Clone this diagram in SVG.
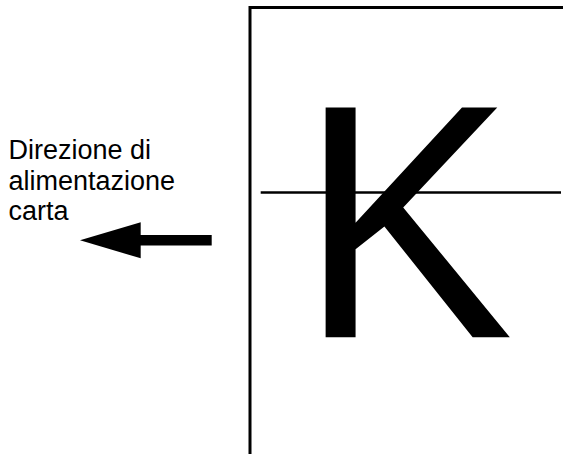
<svg xmlns="http://www.w3.org/2000/svg" width="563" height="454" viewBox="0 0 563 454">
<style>
.lbl{font-family:"Liberation Sans",Arial,sans-serif;font-size:27px;fill:#000}
.big{font-family:"Liberation Sans",Arial,sans-serif;font-size:321px;fill:#000}
</style>
<rect width="563" height="454" fill="#fff"/>
<g id="label">
<text class="lbl" x="8.5" y="159">Direzione di</text>
<text class="lbl" x="8.5" y="189.5">alimentazione</text>
<text class="lbl" x="8.5" y="220">carta</text>
</g>
<g id="arrow">
<rect x="140" y="235" width="71.7" height="10.5" fill="#000"/>
<polygon points="80,240.3 140.7,222.3 140.7,258.3" fill="#000"/>
</g>
<g id="paper">
<path d="M250,454 V7.5 H563" fill="none" stroke="#000" stroke-width="3"/>
<line x1="260.7" y1="192.5" x2="561" y2="192.5" stroke="#000" stroke-width="2.5"/>
<text class="big" transform="translate(299.3,337.3) scale(1,1.04)" x="0" y="0">K</text>
</g>
</svg>
